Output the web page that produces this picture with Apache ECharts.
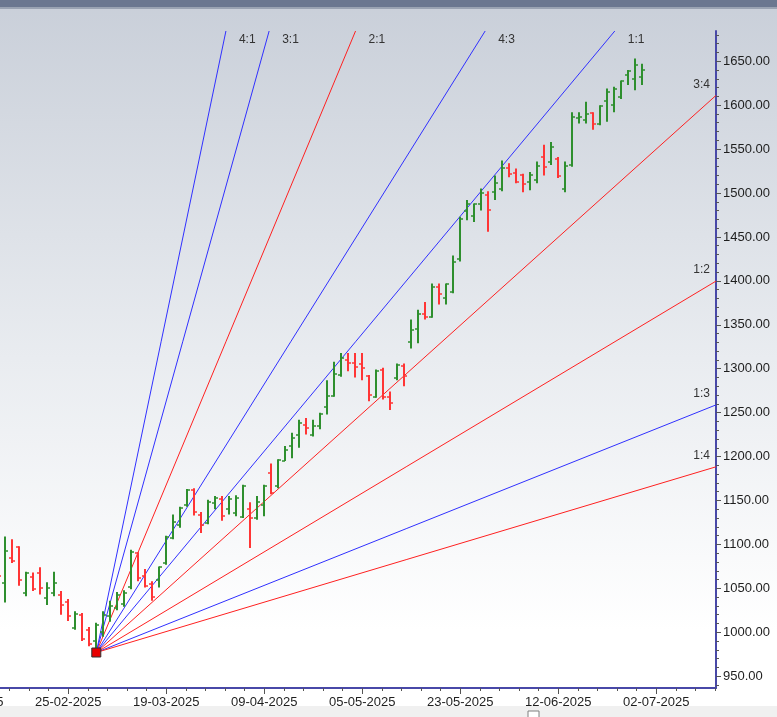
<!DOCTYPE html>
<html><head><meta charset="utf-8">
<script src="https://cdn.jsdelivr.net/npm/echarts@6/dist/echarts.min.js"></script>
<style>html,body{margin:0;padding:0;background:#fff}#c{width:777px;height:717px}</style>
</head><body><div id="c"></div>
<script>
// ---- data ----
const dates = ['11-02-2025','12-02-2025','13-02-2025','14-02-2025','17-02-2025','18-02-2025','19-02-2025','20-02-2025','21-02-2025','24-02-2025',
'25-02-2025','27-02-2025','28-02-2025','03-03-2025','04-03-2025','05-03-2025','06-03-2025','07-03-2025','10-03-2025','11-03-2025',
'12-03-2025','13-03-2025','17-03-2025','18-03-2025','19-03-2025','20-03-2025','21-03-2025','24-03-2025','25-03-2025','26-03-2025',
'27-03-2025','28-03-2025','01-04-2025','02-04-2025','03-04-2025','04-04-2025','07-04-2025','08-04-2025','09-04-2025','11-04-2025',
'15-04-2025','16-04-2025','17-04-2025','21-04-2025','22-04-2025','23-04-2025','24-04-2025','25-04-2025','28-04-2025','29-04-2025',
'30-04-2025','02-05-2025','05-05-2025','06-05-2025','07-05-2025','08-05-2025','09-05-2025','12-05-2025','13-05-2025','14-05-2025',
'15-05-2025','16-05-2025','19-05-2025','20-05-2025','21-05-2025','22-05-2025','23-05-2025','26-05-2025','27-05-2025','28-05-2025',
'29-05-2025','30-05-2025','02-06-2025','03-06-2025','04-06-2025','05-06-2025','06-06-2025','09-06-2025','10-06-2025','11-06-2025',
'12-06-2025','13-06-2025','16-06-2025','17-06-2025','18-06-2025','19-06-2025','20-06-2025','23-06-2025','24-06-2025','25-06-2025',
'26-06-2025','27-06-2025','30-06-2025'];
const opens  = [1080,1056,1084,1097,1045,1063,1068,1039,1045,1042, 1035,1005,1020,1003,990,1000,1018,1028,1032,1051,
1090,1064,1055,1060,1079,1107,1122,1145,1162,1134, 1124,1147,1152,1140,1136,1131,1140,1130,1145,1181,
1166,1195,1212,1225,1236,1225,1235,1257,1269,1293, 1310,1306,1305,1292,1268,1298,1268,1290,1303,1330,
1345,1362,1359,1393,1380,1387,1425,1480,1474,1488, 1498,1501,1504,1529,1523,1520,1512,1515,1541,1535,
1539,1505,1532,1585,1583,1591,1578,1605,1600,1609, 1634,1630,1632];
const highs  = [1090,1109,1106,1098,1069,1068,1074,1057,1069,1047, 1038,1024,1022,1006,1011,1024,1036,1046,1048,1094,
1091,1072,1058,1075,1110,1134,1143,1163,1164,1137, 1151,1155,1155,1155,1156,1168,1148,1155,1168,1192,
1197,1212,1227,1242,1244,1242,1250,1287,1308,1318, 1318,1318,1318,1293,1299,1301,1274,1306,1306,1356,
1367,1376,1397,1397,1397,1429,1473,1492,1488,1505, 1502,1520,1537,1534,1528,1522,1524,1536,1555,1558,
1541,1536,1592,1592,1604,1592,1600,1619,1621,1628, 1640,1653,1647];
const lows   = [1055,1034,1079,1053,1041,1047,1043,1031,1041,1020, 1013,1003,990,984,977,995,1012,1025,1029,1049,
1058,1051,1036,1051,1077,1106,1119,1143,1133,1113, 1123,1140,1127,1134,1132,1130,1096,1128,1132,1157,
1164,1195,1198,1210,1225,1223,1231,1248,1268,1291, 1297,1290,1287,1263,1267,1265,1253,1287,1280,1323,
1329,1356,1358,1373,1373,1386,1422,1469,1467,1480, 1456,1492,1502,1518,1511,1501,1503,1511,1520,1532,
1517,1501,1530,1579,1579,1572,1577,1581,1592,1607, 1623,1617,1623];
const closes = [1064,1092,1081,1059,1068,1049,1050,1050,1056,1031, 1018,1021,992,987,1008,1020,1030,1042,1045,1091,
1062,1053,1040,1074,1108,1126,1141,1162,1137,1122, 1148,1153,1132,1152,1153,1166,1130,1148,1166,1159,
1196,1208,1221,1238,1233,1235,1249,1269,1294,1312, 1307,1302,1301,1270,1297,1268,1261,1304,1292,1344,
1362,1359,1393,1385,1396,1422,1470,1488,1487,1500, 1481,1511,1528,1522,1513,1510,1521,1531,1530,1552,
1519,1531,1586,1587,1590,1579,1599,1615,1618,1627, 1639,1646,1640];

const xTickLabels = ['05-02-2025','25-02-2025','19-03-2025','09-04-2025','05-05-2025','23-05-2025','12-06-2025','02-07-2025'];
const xTickIndex  = [-4,10,24,38,52,66,80,94];
const yTickValues = [950,1000,1050,1100,1150,1200,1250,1300,1350,1400,1450,1500,1550,1600,1650];

const fanNames  = ['4:1','3:1','2:1','4:3','1:1','3:4','1:2','1:3','1:4'];
const fanRatios = [4,3,2,4/3,1,3/4,1/2,1/3,1/4];
const fanColors = ['#3030ff','#3030ff','#ff2020','#3030ff','#3030ff','#ff2020','#ff2020','#3030ff','#ff2020'];
const pivotIndex = 14, pivotPrice = 977, unitPerBar = 9.55;

// ---- chart ----
const X_MIN = 0.243, X_MAX = 102.53, Y_MIN = 936.6, Y_MAX = 1684.4;
const GREEN = '#2e8f2e', RED = '#ff3535';

const ohlc = dates.map((d, i) => [i, opens[i], highs[i], lows[i], closes[i]]);
const minorX = []; for (let k = -5; k <= 40; k++) { const v = 10 + k * 2.8; if (k % 5 !== 0 && v > X_MIN && v < X_MAX) minorX.push(+v.toFixed(2)); }
const minorY = []; for (let v = 940; v <= 1680; v += 10) { if (v % 50 !== 0) minorY.push(v); }

const chart = echarts.init(document.getElementById('c'));
const axisColor = '#4848a8';
const txt = '#1e1e1e';
const font = 'Liberation Sans, Arial, sans-serif';

const bgGraphics = [
  { type: 'rect', z: -100, shape: { x: 0, y: 0, width: 777, height: 717 }, style: { fill: new echarts.graphic.LinearGradient(0, 0, 0, 1, [{offset: 0, color: '#c9cfd9'}, {offset: 0.5, color: '#e9ecf0'}, {offset: 0.88, color: '#ffffff'}, {offset: 1, color: '#ffffff'}]) } },
  { type: 'rect', z: -99, shape: { x: 0, y: 0, width: 777, height: 7 }, style: { fill: '#6b7790' } },
  { type: 'rect', z: -99, shape: { x: 0, y: 7, width: 777, height: 2 }, style: { fill: '#9aa3b3' } },
  { type: 'rect', z: -99, shape: { x: 0, y: 706, width: 777, height: 11 }, style: { fill: '#f0f0f0' } },
  { type: 'rect', z: -98, shape: { x: 528, y: 711, width: 11, height: 8 }, style: { fill: '#ffffff', stroke: '#808080', lineWidth: 1 } }
];

chart.setOption({
  animation: false,
  graphic: bgGraphics,
  grid: { left: 0, right: 61, top: 31, bottom: 29, containLabel: false },
  xAxis: [
    { type: 'value', min: X_MIN, max: X_MAX, splitLine: { show: false },
      axisLine: { show: true, onZero: false, lineStyle: { color: axisColor, width: 2 } },
      axisTick: { show: true, customValues: xTickIndex, length: 6, lineStyle: { color: '#555' } },
      axisLabel: { show: true, customValues: xTickIndex, margin: 8, color: txt, fontSize: 13, fontFamily: font,
        formatter: v => xTickLabels[xTickIndex.indexOf(Math.round(v))] || '' } },
    { type: 'value', min: X_MIN, max: X_MAX, position: 'bottom', splitLine: { show: false },
      axisLine: { show: false, onZero: false },
      axisTick: { show: true, customValues: minorX, length: 3, lineStyle: { color: '#555' } },
      axisLabel: { show: false } }
  ],
  yAxis: [
    { type: 'value', position: 'right', min: Y_MIN, max: Y_MAX, splitLine: { show: false },
      axisLine: { show: true, onZero: false, lineStyle: { color: axisColor, width: 2 } },
      axisTick: { show: true, customValues: yTickValues, length: 5, lineStyle: { color: '#555' } },
      axisLabel: { show: true, customValues: yTickValues, margin: 7, color: txt, fontSize: 13, fontFamily: font,
        formatter: v => v.toFixed(2) } },
    { type: 'value', position: 'right', min: Y_MIN, max: Y_MAX, splitLine: { show: false },
      axisLine: { show: false, onZero: false },
      axisTick: { show: true, customValues: minorY, length: 3, lineStyle: { color: '#555' } },
      axisLabel: { show: false } }
  ],
  series: [
    { type: 'custom', name: 'fan', z: 3, clip: true,
      data: fanRatios.map((r, k) => [k]),
      renderItem: (params, api) => {
        const k = api.value(0);
        const slope = fanRatios[k] * unitPerBar;
        let xe = X_MAX, ye = pivotPrice + slope * (X_MAX - pivotIndex), top = false;
        if (ye > Y_MAX) { xe = pivotIndex + (Y_MAX - pivotPrice) / slope; ye = Y_MAX; top = true; }
        const p0 = api.coord([pivotIndex, pivotPrice]);
        const p1 = api.coord([xe, ye]);
        return { type: 'group', children: [
          { type: 'line', shape: { x1: p0[0], y1: p0[1], x2: p1[0], y2: p1[1] }, style: { stroke: fanColors[k], lineWidth: 1 } },
          { type: 'text', x: top ? p1[0] + 13 : p1[0] - 6, y: top ? p1[1] + 9 : p1[1] - 11,
            style: { text: fanNames[k], fill: '#333', font: '12px ' + font, align: top ? 'left' : 'right', verticalAlign: 'middle' } }
        ] };
      } },
    { type: 'custom', name: 'ohlc', z: 4, clip: true,
      data: ohlc,
      encode: { x: 0, y: [1, 2, 3, 4] },
      renderItem: (params, api) => {
        const i = api.value(0);
        const pH = api.coord([i, api.value(2)]), pL = api.coord([i, api.value(3)]);
        const pO = api.coord([i, api.value(1)]), pC = api.coord([i, api.value(4)]);
        const col = api.value(4) >= api.value(1) ? GREEN : RED;
        const x = Math.round(pH[0]);
        return { type: 'group', children: [
          { type: 'line', shape: { x1: x, y1: pH[1], x2: x, y2: pL[1] }, style: { stroke: col, lineWidth: 2 } },
          { type: 'line', shape: { x1: x - 3, y1: Math.round(pO[1]), x2: x, y2: Math.round(pO[1]) }, style: { stroke: col, lineWidth: 1.5 } },
          { type: 'line', shape: { x1: x, y1: Math.round(pC[1]), x2: x + 3, y2: Math.round(pC[1]) }, style: { stroke: col, lineWidth: 1.5 } }
        ] };
      } },
    { type: 'scatter', name: 'pivot', z: 5, symbol: 'rect', symbolSize: 9,
      itemStyle: { color: '#e80000', borderColor: '#303030', borderWidth: 1, opacity: 1 },
      data: [[pivotIndex, pivotPrice]] }
  ]
});

// the first tick label sits left of the plot and is cut by the window edge
const px = chart.convertToPixel({ xAxisIndex: 0 }, xTickIndex[0]);
const py = chart.convertToPixel({ yAxisIndex: 0 }, Y_MIN);
chart.setOption({ graphic: bgGraphics.concat([
  { type: 'text', z: 10, x: px, y: py + 8, style: { text: xTickLabels[0], fill: txt, font: '13px ' + font, align: 'center', verticalAlign: 'top' } }
]) });
</script></body></html>
